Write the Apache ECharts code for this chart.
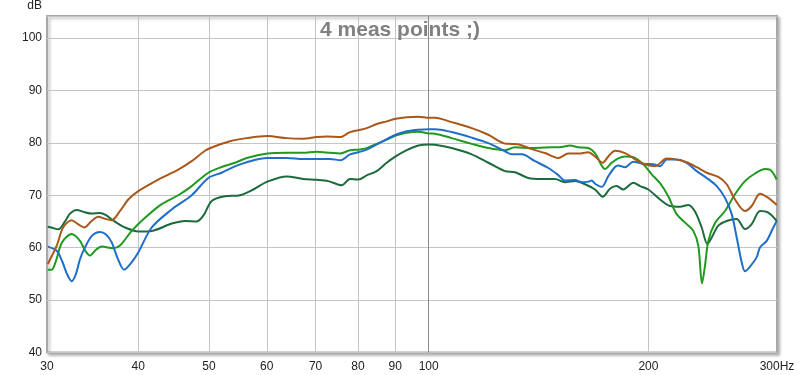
<!DOCTYPE html>
<html>
<head>
<meta charset="utf-8">
<script src="https://cdn.jsdelivr.net/npm/echarts@6/dist/echarts.min.js"></script>
<style>
html,body{margin:0;padding:0;background:#fff;}
#chart{width:800px;height:375px;}
</style>
</head>
<body>
<div id="chart"></div>
<script>
// Frequency ticks (Hz) and level ticks (dB)
const xTicks = [30, 40, 50, 60, 70, 80, 90, 100, 200, 300];
const yTicks = [40, 50, 60, 70, 80, 90, 100];

// Brown measurement
const freqBrown = [30.07,30.96,31.55,32.43,33.08,33.75,34.47,35.27,36.02,36.79,37.77,38.77,40.01,42.62,45.39,47.35,49.38,50.44,53.43,56.32,60.10,63.90,67.33,70.24,72.49,75.59,78.02,80.09,82.24,84.87,87.59,90.11,93.30,96.77,100.19,102.01,107.52,114.53,120.68,127.21,129.93,133.38,138.39,144.32,150.50,155.32,160.30,165.44,168.97,173.13,176.21,179.98,185.74,190.67,196.78,204.18,211.85,218.64,225.65,232.88,240.34,249.30,255.99,262.78,271.20,277.00,284.34,291.88,299.72];
const dbBrown = [56.9,60.5,63.8,65.25,64.5,63.85,65.0,65.9,65.5,65.25,67.0,69.2,70.8,73.0,74.9,76.5,78.5,79.1,80.3,80.9,81.3,80.9,80.8,81.1,81.2,81.1,82.05,82.4,82.8,83.6,84.1,84.6,84.9,85.0,84.8,84.8,83.95,82.8,81.55,79.85,79.8,79.65,78.8,78.05,77.1,77.95,77.95,78.2,77.4,76.2,77.4,78.5,78.05,77.1,76.0,75.55,77.0,76.8,76.3,75.35,74.3,73.5,72.1,69.2,67.0,67.95,70.3,69.5,68.15];

// Green measurement
const freqGreen = [30.07,30.45,30.86,31.45,32.43,33.29,33.82,34.36,35.01,35.65,36.98,37.77,39.19,40.87,43.08,45.39,47.35,49.90,52.05,54.28,56.32,60.10,63.90,67.33,70.24,73.25,75.59,78.02,80.09,82.24,84.87,87.59,90.11,93.30,96.77,100.19,102.01,107.52,114.53,120.68,127.21,131.29,138.39,147.40,152.12,156.16,160.30,165.44,168.97,174.39,178.11,181.86,185.74,190.67,196.78,202.06,207.42,212.72,218.64,225.65,230.40,234.06,236.81,239.06,241.56,246.72,254.62,262.78,271.20,279.89,288.86,293.45,299.72];
const dbGreen = [55.8,55.8,57.5,61.0,62.6,61.3,59.5,58.5,59.6,60.2,59.9,60.4,63.2,65.7,68.3,70.0,71.75,74.3,75.4,76.2,77.1,77.95,78.1,78.1,78.3,78.1,77.95,78.6,78.7,79.0,79.8,80.6,81.4,81.9,82.1,81.8,81.75,80.9,79.8,79.0,78.6,79.15,79.0,79.15,79.2,79.5,79.15,79.0,78.05,75.0,76.2,77.05,77.4,77.25,75.9,74.0,72.3,69.9,66.4,64.5,63.2,60.4,53.2,56.6,61.3,64.7,67.0,70.2,72.7,74.15,75.0,74.9,73.0];

// Blue measurement
const freqBlue = [30.07,30.93,31.45,31.95,32.43,32.87,33.29,33.82,34.58,35.46,36.14,36.79,37.53,38.25,38.98,40.01,41.74,44.46,47.35,49.90,52.05,54.28,56.32,60.10,63.90,67.33,70.24,73.25,75.76,78.02,80.09,82.24,84.87,87.59,90.11,93.30,96.77,100.19,102.01,107.52,114.53,120.68,127.21,129.93,134.09,139.84,145.83,150.50,153.72,158.64,162.03,165.44,167.22,168.97,172.58,176.21,179.98,181.86,185.74,190.67,196.78,203.09,207.42,211.85,218.64,225.65,232.88,240.34,248.04,254.62,260.06,264.19,268.39,271.20,275.51,281.40,284.34,290.42,296.52,299.72];
const dbBlue = [60.2,59.4,57.5,55.0,53.6,55.0,57.8,60.05,62.3,63.0,62.5,61.0,57.8,55.8,56.8,59.1,63.85,67.3,70.0,73.3,74.3,75.5,76.3,77.1,77.1,76.9,76.9,76.9,76.7,77.8,78.2,78.7,79.7,80.7,81.55,82.2,82.5,82.6,82.6,82.05,81.0,79.95,78.4,77.8,77.8,76.5,75.2,73.85,72.8,72.9,72.5,72.6,72.8,72.2,71.6,73.65,75.4,75.7,75.35,76.4,76.0,75.9,75.55,76.8,76.8,76.2,74.6,73.3,71.75,69.5,66.4,61.95,57.2,55.5,56.4,58.2,60.05,61.3,63.85,65.1];

// Dark green measurement
const freqDark = [30.07,30.48,31.09,31.75,32.26,32.95,33.71,34.54,35.46,36.14,36.79,37.53,38.37,40.01,41.74,44.46,46.36,48.11,49.12,50.44,52.60,55.15,57.51,60.10,63.90,67.33,70.24,72.86,76.00,78.02,80.09,82.24,84.87,87.59,90.11,93.30,96.77,100.19,102.01,107.52,114.53,120.68,127.21,131.29,136.91,142.82,148.94,153.72,158.64,163.73,168.97,173.13,177.16,180.94,184.75,190.67,194.74,199.91,207.42,214.07,220.93,226.79,231.63,236.58,240.80,244.16,249.30,255.99,264.19,271.20,277.00,284.34,291.88,299.72];
const dbDark = [64.0,63.8,63.5,65.0,66.5,67.2,66.8,66.5,66.6,66.2,65.4,64.6,63.85,63.1,63.2,64.6,65.1,65.0,66.1,68.9,69.8,70.0,71.1,72.6,73.6,73.1,72.95,72.7,71.9,73.1,73.0,73.8,74.6,76.2,77.4,78.6,79.5,79.7,79.65,79.0,77.8,76.2,74.6,74.4,73.3,73.1,73.1,72.5,72.7,72.1,71.1,69.7,71.25,71.75,71.1,72.4,71.75,71.1,69.2,67.95,67.8,68.15,66.9,63.85,60.7,61.95,64.2,65.1,65.45,63.55,64.5,67.0,66.7,65.1];

const pairs = (f, d) => f.map((v, i) => [v, d[i]]);
const FONT = 'Liberation Sans, Arial, sans-serif';

const chart = echarts.init(document.getElementById('chart'), null, {renderer: 'canvas'});

function lineSeries(name, color, f, d, extra) {
  return Object.assign({
    name: name,
    type: 'line',
    data: pairs(f, d),
    showSymbol: false,
    symbol: 'none',
    smooth: 0.3,
    lineStyle: {color: color, width: 2},
    itemStyle: {color: color},
    silent: true,
    z: 3
  }, extra || {});
}

chart.setOption({
  animation: false,
  backgroundColor: '#ffffff',
  title: {
    text: '4 meas points ;)',
    left: 'center',
    top: 15,
    textStyle: {fontFamily: FONT, fontSize: 21, fontWeight: 'bold', color: '#808080'}
  },
  grid: {
    left: 47, right: 23, top: 14, bottom: 22.5,
    show: true,
    backgroundColor: '#ffffff',
    borderColor: '#a8a8a8',
    borderWidth: 2,
    shadowColor: 'rgba(0,0,0,0.25)',
    shadowBlur: 3,
    shadowOffsetX: 2,
    shadowOffsetY: 2
  },
  xAxis: {
    type: 'log',
    logBase: 10,
    min: 30,
    max: 300,
    axisLine: {show: false},
    axisTick: {show: false, customValues: xTicks},
    axisLabel: {
      customValues: xTicks,
      margin: 8,
      fontFamily: FONT, fontSize: 12, color: '#222',
      formatter: v => (Math.round(v) === 300 ? '300Hz' : String(Math.round(v)))
    },
    splitLine: {show: false}
  },
  yAxis: {
    type: 'value',
    min: 40,
    max: 104.2,
    interval: 10,
    name: 'dB',
    nameLocation: 'end',
    nameGap: 4,
    nameTextStyle: {fontFamily: FONT, fontSize: 12, color: '#222', align: 'right', padding: [0, 5, 0, 0]},
    axisLine: {show: false},
    axisTick: {show: false},
    axisLabel: {
      margin: 5,
      fontFamily: FONT, fontSize: 12, color: '#222',
      formatter: v => (yTicks.indexOf(Math.round(v * 10) / 10) >= 0 ? String(v) : '')
    },
    splitLine: {show: true, lineStyle: {color: '#c4c4c4', width: 1}}
  },
  series: [
    lineSeries('meas 4', '#1c6b3c', freqDark, dbDark, {
      markLine: {
        silent: true,
        symbol: 'none',
        animation: false,
        label: {show: false},
        data: xTicks.filter(v => v !== 30 && v !== 300).map(v => ({
          xAxis: v,
          lineStyle: {color: v === 100 ? '#8a8a8a' : '#c4c4c4', width: 1, type: 'solid'}
        })),
        z: 1
      }
    }),
    lineSeries('meas 3', '#1f9a1f', freqGreen, dbGreen),
    lineSeries('meas 2', '#1f6ec8', freqBlue, dbBlue),
    lineSeries('meas 1', '#a9581a', freqBrown, dbBrown)
  ]
});
</script>
</body>
</html>
